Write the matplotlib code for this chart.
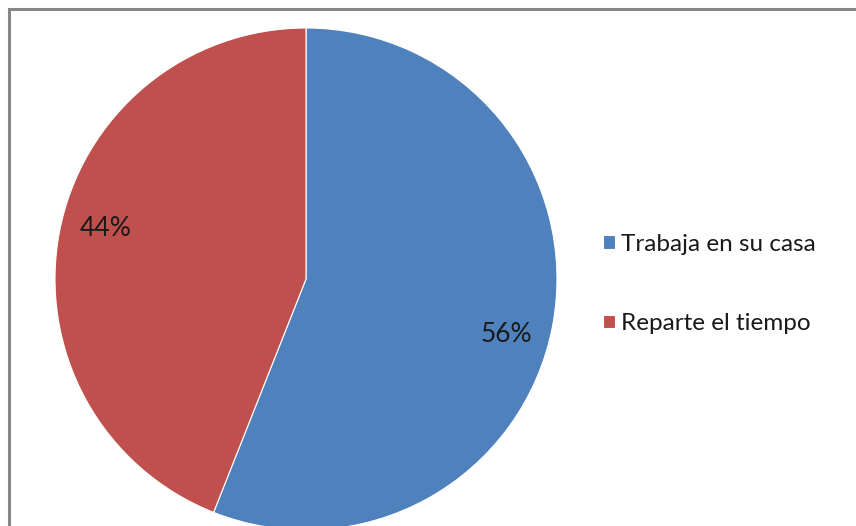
import matplotlib.pyplot as plt
from matplotlib.patches import Rectangle

labels = ["Trabaja en su casa", "Reparte el tiempo"]
values = [56, 44]
colors = ["#4F81BD", "#C0504D"]

plt.rcParams["font.family"] = ["Lato", "DejaVu Sans"]

W, H = 856, 526
fig = plt.figure(figsize=(W / 100, H / 100), dpi=100)

# pie axes: centre (306, 279) px from top-left, radius ~251 px
cx, cy, r = 306, 279, 251
ax = fig.add_axes([(cx - r) / W, (H - cy - r) / H, 2 * r / W, 2 * r / H])
wedges, texts, autotexts = ax.pie(
    values, colors=colors, startangle=90, counterclock=False,
    autopct="%d%%", pctdistance=0.8,
    wedgeprops=dict(edgecolor="white", linewidth=0.8),
    textprops=dict(fontsize=19, color="#1a1a1a"),
)
ax.set_xlim(-1, 1)
ax.set_ylim(-1, 1)
ax.set_aspect("equal")
# Excel-style label placement
autotexts[0].set_position((0.80, -0.22))
autotexts[1].set_position((-0.80, 0.20))

fig.legend(
    wedges, labels, loc="center left", bbox_to_anchor=(603 / W, (H - 284) / H),
    frameon=False, fontsize=17.5, labelspacing=2.4,
    borderaxespad=0, borderpad=0,
    handlelength=0.5, handleheight=0.5, handletextpad=0.25,
    labelcolor="#1a1a1a",
)

# chart area border (continues past right/bottom edges)
fig.add_artist(Rectangle((9 / W, -0.1), 1.2, (H - 9) / H + 0.1,
                         transform=fig.transFigure, fill=False,
                         edgecolor="#878787", linewidth=2.2))

fig.savefig("out.png", dpi=100)
